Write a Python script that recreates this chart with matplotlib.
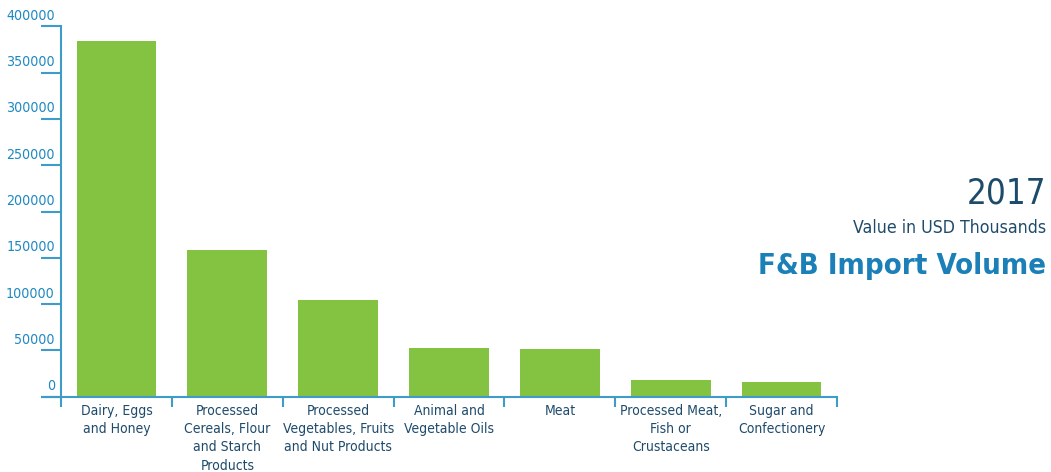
import matplotlib
matplotlib.use('Agg')
import matplotlib.pyplot as plt
from matplotlib.transforms import offset_copy

categories = ['Dairy, Eggs\nand Honey',
              'Processed\nCereals, Flour\nand Starch\nProducts',
              'Processed\nVegetables, Fruits\nand Nut Products',
              'Animal and\nVegetable Oils',
              'Meat',
              'Processed Meat,\nFish or\nCrustaceans',
              'Sugar and\nConfectionery']
values = [384000, 158400, 104400, 52600, 51500, 18000, 15900]
yticks = [0, 50000, 100000, 150000, 200000, 250000, 300000, 350000, 400000]

# narrow face: falls back to DejaVu Sans Condensed
plt.rcParams['font.family'] = ['Liberation Sans Narrow', 'DejaVu Sans']
plt.rcParams['font.stretch'] = 'condensed'

axis_blue = '#3f9cc9'
label_blue = '#1e88c0'
navy = '#1f4b6b'
bar_green = '#84c241'

fig = plt.figure(figsize=(10.51, 4.72), dpi=100)
ax = fig.add_axes([61 / 1051, 75.3 / 472, 776 / 1051, 370.4 / 472])

x = range(len(values))
ax.bar(x, values, width=0.72, color=bar_green)
ax.set_xlim(-0.5, len(values) - 0.5)
ax.set_ylim(0, 400000)

for side in ['top', 'right']:
    ax.spines[side].set_visible(False)
for side in ['left', 'bottom']:
    ax.spines[side].set_color(axis_blue)
    ax.spines[side].set_linewidth(1.5)

# y ticks: long outward marks, labels sit above them
ax.set_yticks(yticks)
ax.set_yticklabels([])
ax.tick_params(axis='y', direction='out', length=14.5, width=1.5, color=axis_blue)
lab_tr = offset_copy(ax.get_yaxis_transform(), fig=fig, x=-4.5, y=2.5, units='points')
for v in yticks:
    ax.text(0, v, str(v), transform=lab_tr, ha='right', va='bottom',
            fontsize=10.2, color=label_blue)

# x ticks at category boundaries
ax.set_xticks([i - 0.5 for i in range(len(values) + 1)])
ax.set_xticklabels([])
ax.tick_params(axis='x', direction='out', length=7, width=1.5, color=axis_blue)
ax.plot([-20 / 776 * 7 - 0.5, -0.5], [0, 0], color=axis_blue, lw=1.5,
        clip_on=False, solid_capstyle='butt')

cat_tr = offset_copy(ax.get_xaxis_transform(), fig=fig, y=-5, units='points')
for i, c in enumerate(categories):
    ax.text(i, 0, c, transform=cat_tr, ha='center', va='top', fontsize=10,
            color=navy, linespacing=1.4)

fig.text(1046 / 1051, 1 - 193 / 472, '2017', ha='right', va='center',
         fontsize=25, color=navy)
fig.text(1046 / 1051, 1 - 228 / 472, 'Value in USD Thousands', ha='right',
         va='center', fontsize=12.7, color=navy)
fig.text(1046 / 1051, 1 - 266 / 472, 'F&B Import Volume', ha='right',
         va='center', fontsize=21, color='#1b7fb8', fontweight='bold')

fig.savefig('out.png', dpi=100)
